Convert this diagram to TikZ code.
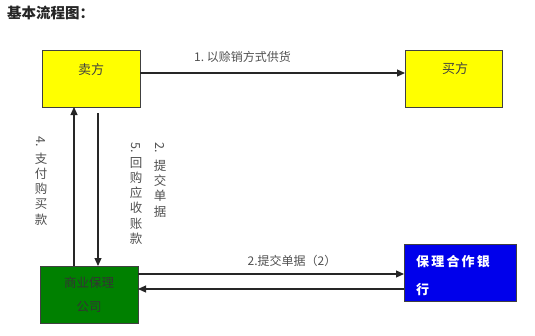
\documentclass[tikz,border=0pt]{standalone}
\usepackage{fontspec}
\setmainfont{Noto Sans CJK SC}
\usepackage{graphicx}
\usetikzlibrary{arrows.meta}
\definecolor{boxyellow}{RGB}{255,255,0}
\definecolor{boxgreen}{RGB}{0,128,0}
\definecolor{boxblue}{RGB}{0,0,235}
\definecolor{txtgray}{RGB}{80,80,80}
\begin{document}
\begin{tikzpicture}[x=1pt,y=-1pt,
  flowbox/.style={draw=black!75,line width=0.8pt,minimum width=98pt,minimum height=57pt,anchor=north west,inner sep=0pt},
  conn/.style={line width=1.1pt,draw=black!85,-{Triangle[length=8pt,width=7pt]}},
  lbl/.style={text=txtgray,font=\fontsize{12}{14}\selectfont,inner sep=0pt},
  vlbl/.style={text=txtgray,font=\fontsize{12.5}{15.3}\selectfont,align=center,inner sep=0pt,anchor=north}
]
\useasboundingbox (0,0) rectangle (535,335);
% title
\node[anchor=west,inner sep=0pt,font=\fontsize{14.5}{16}\selectfont\bfseries,text=black!85] (title) at (7,13) {基本流程图：};
% boxes
\node[flowbox,fill=boxyellow] (seller) at (42,50) {};
\node[lbl,text=black!75,font=\fontsize{13}{15}\selectfont] (sellert) at (91,70) {卖方};
\node[flowbox,fill=boxyellow,minimum width=97pt] (buyer) at (405,50) {};
\node[lbl,text=black!75,font=\fontsize{13}{15}\selectfont] (buyert) at (455,69) {买方};
\node[flowbox,fill=boxgreen] (factor) at (40,266) {};
\node[lbl,text=black!80,align=center,font=\fontsize{12.5}{24}\selectfont] (factort) at (89,295) {商业保理\\公司};
\node[flowbox,fill=boxblue,minimum width=112pt] (bank) at (404,244) {};
\node[anchor=north west,inner sep=0pt,text=white,align=left,font=\fontsize{13}{28}\selectfont\bfseries] (bankt) at (416,255) {保\,理\,合\,作\,银\\行};
% coordinates
\coordinate (s1) at (140,73);
\coordinate (b1) at (405,73);
\coordinate (up0) at (74,266);
\coordinate (up1) at (74,107);
\coordinate (dn0) at (98,113);
\coordinate (dn1) at (98,266);
\coordinate (g1) at (138,274);
\coordinate (k1) at (404,274);
\coordinate (k2) at (404,289);
\coordinate (g2) at (138,289);
% connectors
\draw[conn] (s1) -- (b1);
\draw[conn] (up0) -- (up1);
\draw[conn] (dn0) -- (dn1);
\draw[conn] (g1) -- (k1);
\draw[conn] (k2) -- (g2);
% labels
\node[lbl,anchor=west] (l1) at (194,57) {1.\ 以赊销方式供货};
\node[lbl] (l2b) at (292,261) {2.提交单据（2）};
\node[vlbl] (l4) at (41,136) {\rotatebox[origin=c]{-90}{4.}\\[2pt]支\\付\\购\\买\\款};
\node[vlbl] (l5) at (136,142) {\rotatebox[origin=c]{-90}{5.}\\回\\购\\应\\收\\账\\款};
\node[vlbl] (l2) at (160,142) {\rotatebox[origin=c]{-90}{2.}\\[3pt]提\\交\\单\\据};
\end{tikzpicture}
\end{document}
